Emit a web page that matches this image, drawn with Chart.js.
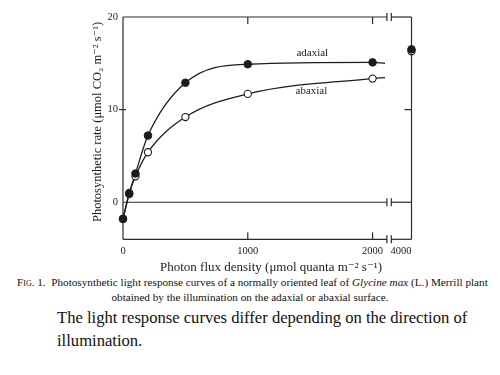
<!DOCTYPE html>
<html>
<head>
<meta charset="utf-8">
<script src="https://cdn.jsdelivr.net/npm/chart.js@4.4.1/dist/chart.umd.min.js"></script>
<style>
    body { margin: 0; background: #fff; width: 500px; height: 375px; overflow: hidden; position: relative; }
    #lightChart { position: absolute; left: 0; top: 0; }
    .cap { position: absolute; font-family: "Liberation Serif", "Times New Roman", "DejaVu Serif", serif; color: #111; white-space: nowrap; }
    #cap1 { left: 17px; top: 276px; font-size: 11.2px; }
    #cap2 { left: 0; width: 500px; text-align: center; top: 291px; font-size: 11.2px; }
    #note { left: 57px; top: 306px; font-size: 16.6px; line-height: 23px; }
    .sc { font-variant: small-caps; }
</style>
</head>
<body>
<canvas id="lightChart" width="500" height="275"></canvas>
<div class="cap" id="cap1"><span class="sc">Fig</span>. 1.&nbsp; Photosynthetic light response curves of a normally oriented leaf of <i>Glycine max</i> (L.) Merrill plant</div>
<div class="cap" id="cap2">obtained by the illumination on the adaxial or abaxial surface.</div>
<div class="cap" id="note">The light response curves differ depending on the direction of<br>illumination.</div>
<script>
// photon flux density (umol quanta m-2 s-1) and rates (umol CO2 m-2 s-1)
const ppfd = [0, 50, 100, 200, 500, 1000, 2000, 4000];
const adaxial = [-1.8, 0.9, 3.1, 7.2, 12.9, 14.9, 15.1, 16.5];
const abaxial = [-1.8, 1.0, 2.8, 5.4, 9.2, 11.7, 13.35, 16.3];

// the drawn curves stop a little after 2000
const curveEnd = 2100;
const adaxialEnd = 15.0;
const abaxialEnd = 13.45;

const xTicks = [0, 1000, 2000, 4000];
const yTicks = [0, 10, 20];

// broken x axis: everything past the break is drawn at the right edge
const xMax = 2312;
const breakLo = 2115, breakHi = 2150;
function xMap(v) { return v > breakHi ? xMax : v; }

function pts(xs, ys) { return xs.map((x, i) => ({ x: xMap(x), y: ys[i] })); }
function curve(xs, ys, endX, endY) {
    const p = [];
    xs.forEach((x, i) => { if (x <= 2000) p.push({ x: x, y: ys[i] }); });
    p.push({ x: endX, y: endY });
    return p;
}

const ink = '#1c1c1c';
const serif = '"Liberation Serif", "Times New Roman", "DejaVu Serif", serif';

const framePlugin = {
    id: 'frame',
    beforeDatasetsDraw(chart) {
        const c = chart.ctx, xs = chart.scales.x, ys = chart.scales.y;
        const X = v => xs.getPixelForValue(v), Y = v => ys.getPixelForValue(v);
        c.save();
        c.strokeStyle = '#2a2a2a';
        c.lineWidth = 1.2;
        function seg(x1, y1, x2, y2) { c.beginPath(); c.moveTo(x1, y1); c.lineTo(x2, y2); c.stroke(); }
        // vertical axes
        seg(X(0), Y(20), X(0), Y(-4));
        seg(X(xMax), Y(20), X(xMax), Y(-4));
        // horizontal lines with break marks
        [20, 0, -4].forEach(v => {
            seg(X(0), Y(v), X(breakLo), Y(v));
            seg(X(breakHi), Y(v), X(xMax), Y(v));
            seg(X(breakLo), Y(v) - 4, X(breakLo), Y(v) + 4);
            seg(X(breakHi), Y(v) - 4, X(breakHi), Y(v) + 4);
        });
        // tick marks
        [1000, 2000].forEach(v => {
            seg(X(v), Y(20), X(v), Y(20) + 7);
            seg(X(v), Y(-4), X(v), Y(-4) - 7);
        });
        seg(X(0) - 4, Y(10), X(0) + 3, Y(10));
        seg(X(xMax), Y(10), X(xMax) - 7, Y(10));

        // tick labels
        c.fillStyle = ink;
        c.font = '10.5px ' + serif;
        c.textBaseline = 'middle';
        c.textAlign = 'right';
        yTicks.forEach(v => c.fillText(String(v), X(0) - 5, Y(v)));
        xTicks.forEach(v => {
            c.textAlign = v === 4000 ? 'right' : 'center';
            c.fillText(String(v), X(xMap(v)), Y(-4) + 12);
        });

        // series labels
        c.font = '11px ' + serif;
        c.textAlign = 'center';
        c.fillText('adaxial', X(1517), Y(16.15));
        c.fillText('abaxial', X(1510), Y(11.95));

        // axis titles
        c.font = '13px ' + serif;
        c.fillText('Photon flux density (\u03bcmol quanta m\u207b\u00b2 s\u207b\u00b9)', 271, 268);
        c.font = '12.5px ' + serif;
        c.translate(98, 122);
        c.rotate(-Math.PI / 2);
        c.fillText('Photosynthetic rate (\u03bcmol CO\u2082 m\u207b\u00b2 s\u207b\u00b9)', 0, 0);
        c.restore();
    }
};

new Chart(document.getElementById('lightChart'), {
    type: 'scatter',
    data: {
        datasets: [
            {
                label: 'adaxial',
                data: pts(ppfd, adaxial),
                pointRadius: 3.8, pointBackgroundColor: ink,
                pointBorderColor: ink, pointBorderWidth: 1, clip: false, order: 0
            },
            {
                label: 'abaxial',
                data: pts(ppfd, abaxial),
                pointRadius: 3.6, pointBackgroundColor: '#fff',
                pointBorderColor: ink, pointBorderWidth: 1.1, clip: false, order: 1
            },
            {
                label: 'adaxial curve', type: 'line',
                data: curve(ppfd, adaxial, curveEnd, adaxialEnd),
                borderColor: ink, borderWidth: 1.3, pointRadius: 0,
                cubicInterpolationMode: 'monotone', fill: false, clip: false, order: 2
            },
            {
                label: 'abaxial curve', type: 'line',
                data: curve(ppfd, abaxial, curveEnd, abaxialEnd),
                borderColor: ink, borderWidth: 1.3, pointRadius: 0,
                cubicInterpolationMode: 'monotone', fill: false, clip: false, order: 3
            }
        ]
    },
    options: {
        responsive: false,
        animation: false,
        layout: { padding: { left: 123, right: 88.5, top: 17, bottom: 35.7 } },
        plugins: { legend: { display: false }, tooltip: { enabled: false } },
        scales: {
            x: { type: 'linear', min: 0, max: xMax, display: false },
            y: { type: 'linear', min: -4, max: 20, display: false }
        }
    },
    plugins: [framePlugin]
});
</script>
</body>
</html>
